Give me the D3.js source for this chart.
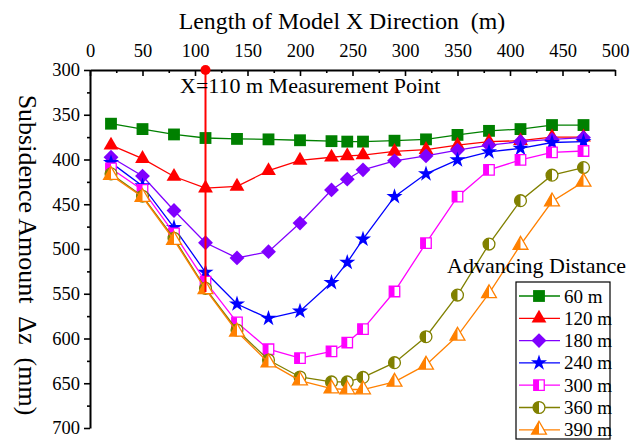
<!DOCTYPE html>
<html>
<head>
<meta charset="utf-8">
<script src="https://cdn.jsdelivr.net/npm/d3@7"></script>
<style>
  body { margin: 0; background: #fff; }
  svg text { font-family: "Liberation Serif", "Times New Roman", serif; white-space: pre; }
</style>
</head>
<body>
<svg id="chart"></svg>
<script>
// positions along the model (m)
const xValues = [20, 50, 80, 110, 140, 170, 200, 230, 245, 260, 290, 320, 350, 380, 410, 440, 470];

// subsidence (mm) for each advancing distance
const s60  = [360, 366, 372, 376, 377, 377.5, 378.5, 379.5, 380, 380, 379, 377.5, 372.5, 368, 366, 361.5, 361.5];
const s120 = [384, 399, 419, 432, 430, 412.5, 401, 397.5, 396, 395, 391, 389, 384, 380, 379, 375, 375];
const s180 = [397.5, 418.5, 457, 493, 510, 503, 471, 434, 422, 411.5, 401.5, 396, 389.5, 384, 380, 377.5, 375.5];
const s240 = [403.5, 429.5, 476, 526, 561.5, 577.5, 569.5, 537.5, 515, 489, 441.5, 416, 400.5, 391.5, 387.5, 381, 380];
const s300 = [410, 434, 482.5, 536.5, 582, 612, 622, 614.5, 604.5, 589.5, 547.5, 493.5, 441.5, 411.5, 400.5, 392, 390.5];
const s360 = [416, 441, 488, 544, 590.5, 624, 643, 648.5, 648.5, 643.5, 627, 598, 551.5, 494.5, 446, 417.5, 409];
const s390 = [417.5, 442, 490, 545, 592.5, 627, 647, 656, 657, 657, 648.5, 629.5, 597, 549.5, 495.5, 447, 425];

const seriesNames = ['60 m', '120 m', '180 m', '240 m', '300 m', '360 m', '390 m'];
const seriesValues = [s60, s120, s180, s240, s300, s360, s390];
const seriesColors = ['#008000', '#ff0000', '#8000ff', '#0000ff', '#ff00ff', '#808000', '#ff8000'];
const seriesMarkers = ['square', 'triangle', 'diamond', 'star', 'halfSquare', 'halfCircle', 'halfTriangle'];

const xTicks = [0, 50, 100, 150, 200, 250, 300, 350, 400, 450, 500];
const yTicks = [300, 350, 400, 450, 500, 550, 600, 650, 700];

// measurement line at X = 110 m
const measureX = 110;
const measureRange = [300, 548];

const width = 643, height = 440;
const margin = {top: 70, right: 28, bottom: 12, left: 90};
const serif = 'Liberation Serif, Times New Roman, serif';

const svg = d3.select('#chart')
    .attr('width', width)
    .attr('height', height);

const xscale = d3.scaleLinear().domain([0, 500]).range([margin.left, width - margin.right]);
const yscale = d3.scaleLinear().domain([300, 700]).range([margin.top, height - margin.bottom]);

// clip for half filled markers (left half)
const defs = svg.append('defs');
defs.append('clipPath').attr('id', 'lefthalf')
  .append('rect').attr('x', -20).attr('y', -20).attr('width', 20).attr('height', 40);

// top axis
const xaxis = d3.axisTop(xscale).tickValues(xTicks).tickSize(-6).tickSizeOuter(0).tickPadding(13);
const xminor = d3.axisTop(xscale).tickValues(d3.range(25, 500, 50)).tickSize(-3).tickFormat('');
svg.append('g').attr('transform', `translate(0, ${margin.top})`).call(xaxis);
svg.append('g').attr('transform', `translate(0, ${margin.top})`).call(xminor)
    .select('.domain').remove();

// left axis
const yaxis = d3.axisLeft(yscale).tickValues(yTicks).tickSize(6).tickSizeOuter(0).tickPadding(4);
const yminor = d3.axisLeft(yscale).tickValues(d3.range(325, 700, 50)).tickSize(3).tickFormat('');
svg.append('g').attr('transform', `translate(${margin.left}, 0)`).call(yaxis);
svg.append('g').attr('transform', `translate(${margin.left}, 0)`).call(yminor)
    .select('.domain').remove();

svg.selectAll('.domain').attr('stroke', '#000').attr('stroke-width', 2);
svg.selectAll('.tick line').attr('stroke', '#000').attr('stroke-width', 1.6);
svg.selectAll('.tick text')
    .style('font-family', serif)
    .style('font-size', '18.5px')
    .attr('fill', '#000');

// titles
svg.append('text')
    .attr('x', 342)
    .attr('y', 29)
    .attr('text-anchor', 'middle')
    .style('font-size', '23.8px')
    .text('Length of Model X Direction  (m)');

svg.append('text')
    .attr('transform', `translate(19, 255) rotate(90)`)
    .attr('text-anchor', 'middle')
    .style('font-size', '26px')
    .text('Subsidence Amount  Δz  (mm)');

function markerPath(type) {
    if (type === 'square' || type === 'halfSquare') return d3.symbol(d3.symbolSquare, type === 'square' ? 140 : 110)();
    if (type === 'triangle' || type === 'halfTriangle') return d3.symbol(d3.symbolTriangle, 95)();
    if (type === 'diamond') return d3.symbol(d3.symbolSquare, 110)();
    if (type === 'star') return d3.symbol(d3.symbolStar, 80)();
    return d3.symbol(d3.symbolCircle, 110)();
}

const line = d3.line()
    .x(d => xscale(d.x))
    .y(d => yscale(d.y));

function drawMarker(g, type, color) {
    const p = markerPath(type);
    const rot = type === 'diamond' ? 'rotate(45)' : null;
    if (type.startsWith('half')) {
        g.append('path').attr('d', p).attr('fill', '#fff')
            .attr('stroke', color).attr('stroke-width', 1.3);
        g.append('path').attr('d', p).attr('fill', color)
            .attr('clip-path', 'url(#lefthalf)');
    } else {
        g.append('path').attr('d', p).attr('fill', color).attr('transform', rot);
    }
}

seriesValues.forEach((vals, i) => {
    const pts = vals.map((v, j) => ({x: xValues[j], y: v}));
    const color = seriesColors[i];
    svg.append('path')
        .datum(pts)
        .attr('fill', 'none')
        .attr('stroke', color)
        .attr('stroke-width', 1.3)
        .attr('d', line);
    svg.append('g').selectAll('g')
        .data(pts)
        .join('g')
        .attr('transform', d => `translate(${xscale(d.x)}, ${yscale(d.y)})`)
        .each(function() { drawMarker(d3.select(this), seriesMarkers[i], color); });
});

// measurement point line and label
svg.append('line')
    .attr('x1', xscale(measureX)).attr('x2', xscale(measureX))
    .attr('y1', yscale(measureRange[0])).attr('y2', yscale(measureRange[1]))
    .attr('stroke', '#ff0000').attr('stroke-width', 2);
svg.append('circle')
    .attr('cx', xscale(measureX)).attr('cy', yscale(measureRange[0]))
    .attr('r', 5).attr('fill', '#ff0000');
svg.append('text')
    .attr('x', 180).attr('y', 93)
    .style('font-size', '22px')
    .text('X=110 m Measurement Point');

// legend
svg.append('text')
    .attr('x', 447).attr('y', 273)
    .style('font-size', '22px')
    .text('Advancing Distance');

const legend = svg.append('g').attr('transform', 'translate(516, 282)');
legend.append('rect')
    .attr('width', 94).attr('height', 157)
    .attr('fill', '#fff').attr('stroke', '#000').attr('stroke-width', 1.2);
const rowH = 22.3;
seriesNames.forEach((name, i) => {
    const row = legend.append('g').attr('transform', `translate(0, ${14 + i * rowH})`);
    row.append('line').attr('x1', 3).attr('x2', 44)
        .attr('stroke', seriesColors[i]).attr('stroke-width', 1.3);
    drawMarker(row.append('g').attr('transform', 'translate(23, 0)'), seriesMarkers[i], seriesColors[i]);
    row.append('text').attr('x', 48).attr('y', 6.5)
        .style('font-size', '19px')
        .text(name);
});
</script>
</body>
</html>
